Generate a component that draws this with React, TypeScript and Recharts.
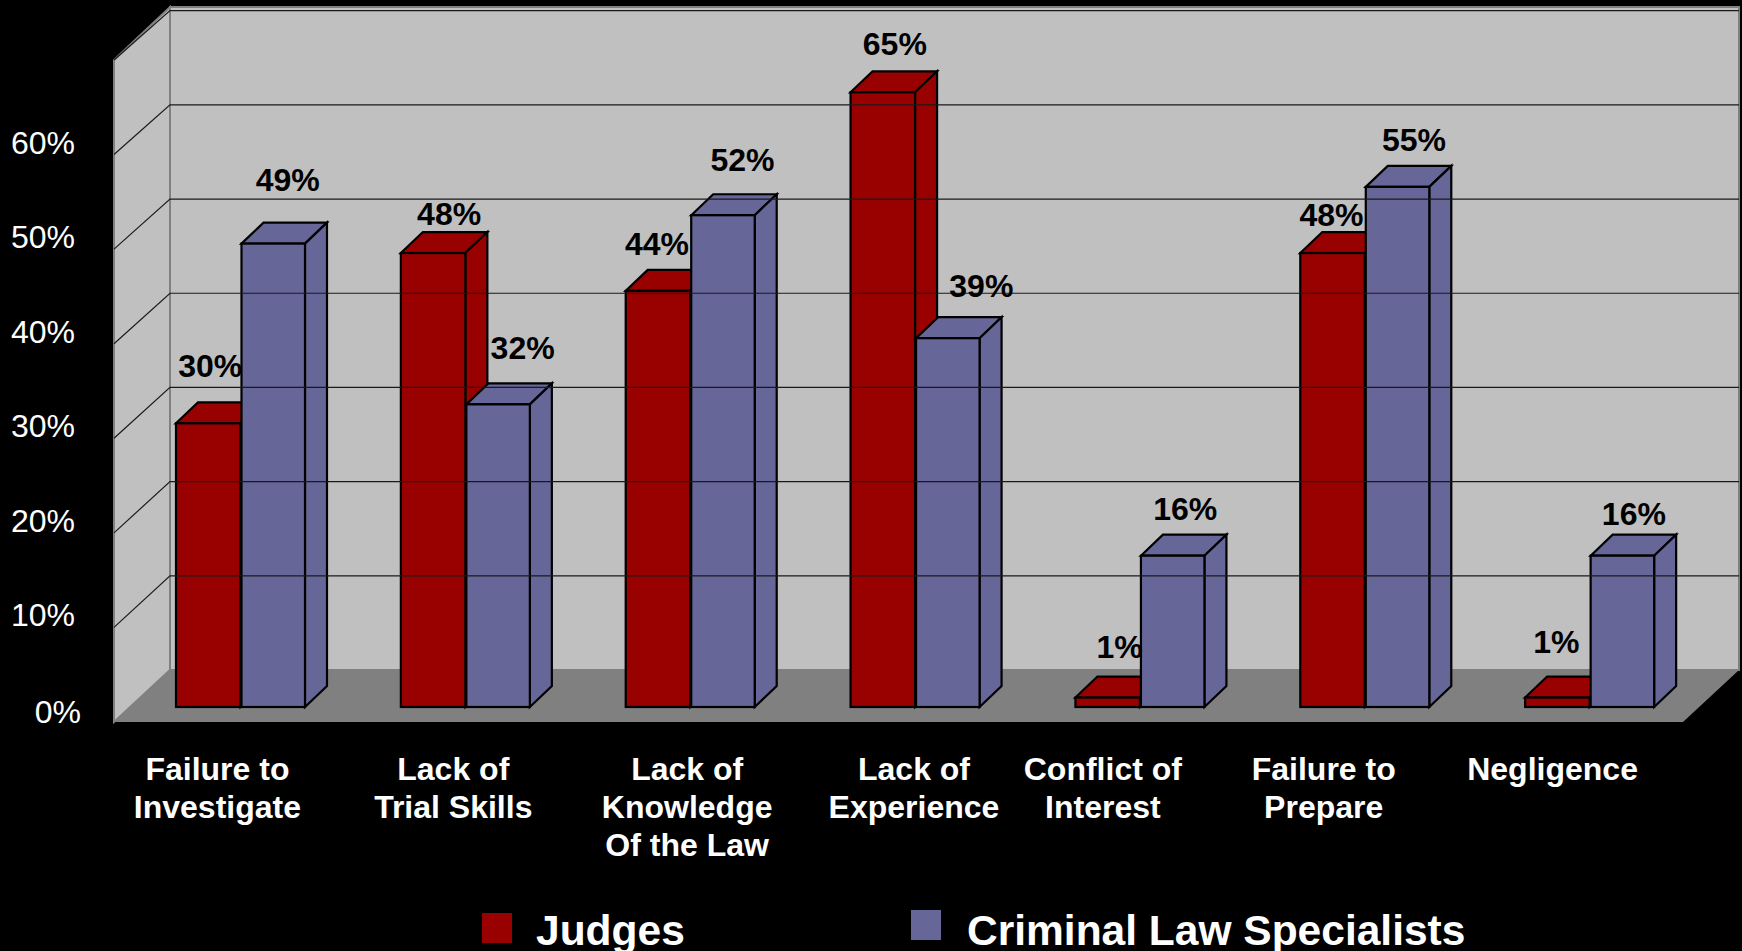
import { BarChart, Bar, XAxis, YAxis, LabelList, Legend, Customized } from 'recharts';

const categories = [
  'Failure to\nInvestigate',
  'Lack of\nTrial Skills',
  'Lack of\nKnowledge\nOf the Law',
  'Lack of\nExperience',
  'Conflict of\nInterest',
  'Failure to\nPrepare',
  'Negligence',
];
const judges = [30, 48, 44, 65, 1, 48, 1];
const specialists = [49, 32, 52, 39, 16, 55, 16];
const yTicks = [0, 10, 20, 30, 40, 50, 60, 70];

const data = categories.map((name, i) => ({ name, judges: judges[i], specialists: specialists[i] }));

const FONT = '"Liberation Sans", Arial, sans-serif';
const RED = '#990000';
const BLUE = '#666699';

// 3d look: the bars stand part way into the box, so walls sit off the bar plane
const BAR_FLOOR = 707;
const DEPTH_X = 22;
const DEPTH_Y = 21;
const WALL_FLOOR_BACK = 670;
const WALL_FRONT = 15;
const WALL_L_FRONT = 114;
const WALL_L_BACK = 170;
const WALL_R_BACK = 1739;
const WALL_R_FRONT = 1683;
const BACK_SCALE = 0.996;

// the labels were hand placed in the original slide, so each one gets a nudge
const categoryNudge = [-23, -12, -3, -1, -37, -41, -37];
const judgesNudge = [[2, -57], [16, -39], [-1, -47], [12, -48], [12, -51], [-1, -38], [-1, -56]];
const specialistsNudge = [[15, -64], [25, -56], [20, -55], [34, -52], [13, -47], [17, -47], [12, -42]];

function Walls() {
  const top = 7;
  const front = 722;
  return (
    <g>
      <polygon
        points={`${WALL_L_BACK},${top} ${WALL_R_BACK},${top} ${WALL_R_BACK},${WALL_FLOOR_BACK} ${WALL_L_BACK},${WALL_FLOOR_BACK}`}
        fill="#C0C0C0"
        stroke="#808080"
        strokeWidth={2}
      />
      <polygon
        points={`${WALL_L_FRONT},60 ${WALL_L_BACK},${top} ${WALL_L_BACK},${WALL_FLOOR_BACK} ${WALL_L_FRONT},${front}`}
        fill="#C0C0C0"
        stroke="#808080"
        strokeWidth={2}
      />
      <polygon
        points={`${WALL_L_FRONT},${front} ${WALL_L_BACK},${WALL_FLOOR_BACK} ${WALL_R_BACK},${WALL_FLOOR_BACK} ${WALL_R_FRONT},${front}`}
        fill="#808080"
      />
    </g>
  );
}

function WallTick({ x, y, payload }: any) {
  const v = payload.value;
  const backY = WALL_FLOOR_BACK - (BAR_FLOOR - y) * BACK_SCALE;
  return (
    <g>
      {v > 0 && (
        <polyline
          points={`${WALL_L_FRONT},${y + WALL_FRONT} ${WALL_L_BACK},${backY} ${WALL_R_BACK},${backY}`}
          fill="none"
          stroke="#1a1a1a"
          strokeWidth={1.2}
        />
      )}
      {v < 70 && (
        <text
          x={x + (v === 0 ? 6 : 0)}
          y={y + (v === 0 ? 16 : 14)}
          textAnchor="end"
          fontFamily={FONT}
          fontSize={32}
          fill="#ffffff"
        >
          {v}%
        </text>
      )}
    </g>
  );
}

function CategoryTick({ x, y, index, payload }: any) {
  const lines = String(payload.value).split('\n');
  return (
    <text textAnchor="middle" fontFamily={FONT} fontSize={32} fontWeight="bold" fill="#ffffff">
      {lines.map((line, i) => (
        <tspan key={i} x={x + categoryNudge[index]} y={y + 71 + i * 38}>{line}</tspan>
      ))}
    </text>
  );
}

function Box3D({ x, y, width, height, fill }: any) {
  const r = x + width;
  const b = y + height;
  return (
    <g stroke="#000000" strokeWidth={2.2} strokeLinejoin="miter" fill={fill}>
      <polygon points={`${x},${y} ${x + DEPTH_X},${y - DEPTH_Y} ${r + DEPTH_X},${y - DEPTH_Y} ${r},${y}`} />
      <polygon points={`${r},${y} ${r + DEPTH_X},${y - DEPTH_Y} ${r + DEPTH_X},${b - DEPTH_Y} ${r},${b}`} />
      <rect x={x} y={y} width={width} height={height} />
    </g>
  );
}

// blue front face starts a touch further right than the red one ends
const BlueBox = (p: any) => <Box3D {...p} x={p.x + 1} width={p.width - 1} />;

const valueLabel = (nudge: number[][]) => ({ x, y, width, value, index }: any) => (
  <text
    x={x + width / 2 + nudge[index][0]}
    y={y + nudge[index][1] + 11}
    textAnchor="middle"
    fontFamily={FONT}
    fontSize={32}
    fontWeight="bold"
    fill="#000000"
  >
    {value}%
  </text>
);

const legendSpots = [
  { box: 482, boxTop: 913, text: 536 },
  { box: 911, boxTop: 910, text: 967 },
];

function LegendRow({ payload }: any) {
  return (
    <div style={{ position: 'relative', width: 1742, height: 51 }}>
      {(payload ?? []).map((p: any, i: number) => (
        <div key={p.value}>
          <div
            style={{
              position: 'absolute',
              left: legendSpots[i].box,
              top: legendSpots[i].boxTop - 900,
              width: 30,
              height: 30,
              background: p.color,
            }}
          />
          <div
            style={{
              position: 'absolute',
              left: legendSpots[i].text,
              top: 12,
              fontFamily: FONT,
              fontWeight: 'bold',
              fontSize: 42.5,
              lineHeight: '38px',
              color: '#ffffff',
              whiteSpace: 'nowrap',
            }}
          >
            {p.value}
          </div>
        </div>
      ))}
    </div>
  );
}

export default function App() {
  return (
    <div style={{ position: 'fixed', left: 0, top: 0, width: 1742, height: 951, background: '#000000', overflow: 'hidden' }}>
      <BarChart
        width={1742}
        height={951}
        data={data}
        barSize={64.5}
        barGap={0}
        barCategoryGap={0}
        margin={{ top: 45, right: 40, bottom: 0, left: 0 }}
      >
        <Customized component={Walls} />
        <YAxis
          width={128}
          domain={[0, 70]}
          ticks={yTicks}
          interval={0}
          axisLine={false}
          tickLine={false}
          tickSize={0}
          tickMargin={53}
          tick={WallTick}
        />
        <XAxis
          dataKey="name"
          height={244}
          interval={0}
          axisLine={false}
          tickLine={false}
          tickSize={0}
          tick={CategoryTick}
        />
        <Legend
          layout="horizontal"
          verticalAlign="middle"
          align="center"
          itemSorter="dataKey"
          wrapperStyle={{ position: 'absolute', top: 900, left: 0, width: 1742, height: 51 }}
          content={LegendRow}
        />
        <Bar dataKey="judges" name="Judges" fill={RED} shape={Box3D} isAnimationActive={false}>
          <LabelList dataKey="judges" content={valueLabel(judgesNudge)} />
        </Bar>
        <Bar dataKey="specialists" name="Criminal Law Specialists" fill={BLUE} shape={BlueBox} isAnimationActive={false}>
          <LabelList dataKey="specialists" content={valueLabel(specialistsNudge)} />
        </Bar>
      </BarChart>
    </div>
  );
}
